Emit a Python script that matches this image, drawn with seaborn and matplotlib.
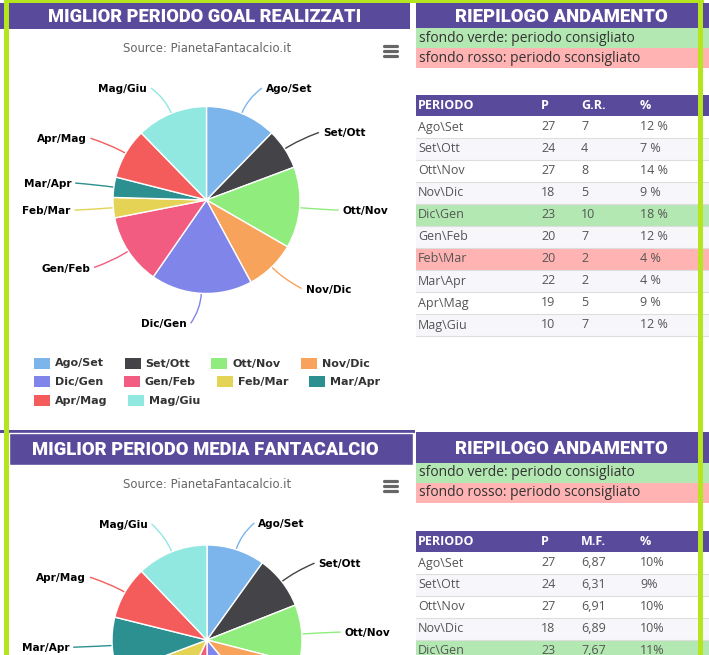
import matplotlib
matplotlib.use("Agg")
import matplotlib.pyplot as plt
import seaborn as sns
import numpy as np
import pandas as pd
from matplotlib.patches import Rectangle, PathPatch
from matplotlib.path import Path

# ---------------- data ----------------
periods = ["Ago/Set", "Set/Ott", "Ott/Nov", "Nov/Dic", "Dic/Gen",
           "Gen/Feb", "Feb/Mar", "Mar/Apr", "Apr/Mag", "Mag/Giu"]
goals = [7, 4, 8, 5, 10, 7, 2, 2, 5, 7]
presenze1 = [27, 24, 27, 18, 23, 20, 20, 22, 19, 10]
goal_pct = ["12 %", "7 %", "14 %", "9 %", "18 %", "12 %", "4 %", "4 %", "9 %", "12 %"]
status1 = ["", "", "", "", "good", "", "bad", "", "", ""]

mf_pie = [6.87, 6.31, 6.91, 6.89, 7.67, 4.9, 8.5, 6.65, 6.25, 8.4]
presenze2 = [27, 24, 27, 18, 23]
mf_table = ["6,87", "6,31", "6,91", "6,89", "7,67"]
mf_pct = ["10%", "9%", "10%", "10%", "11%"]
status2 = ["", "", "", "", "good"]

title1 = "MIGLIOR PERIODO GOAL REALIZZATI"
title2 = "MIGLIOR PERIODO MEDIA FANTACALCIO"
side_title = "RIEPILOGO ANDAMENTO"
note_good = "sfondo verde: periodo consigliato"
note_bad = "sfondo rosso: periodo sconsigliato"
subtitle = "Source: PianetaFantacalcio.it"
header1 = ["PERIODO", "P", "G.R.", "%"]
header2 = ["PERIODO", "P", "M.F.", "%"]

hc_colors = ["#7cb5ec", "#434348", "#90ed7d", "#f7a35c", "#8085e9",
             "#f15c80", "#e4d354", "#2b908f", "#f45b5b", "#91e8e1"]

# ---------------- style ----------------
sns.set_theme(style="white")
pal = sns.color_palette(hc_colors)
plt.rcParams["font.family"] = ["DejaVu Sans"]

PURPLE = "#5a4a9b"
LIME = "#b5e51d"
GREEN_BG = "#b3e8b3"
RED_BG = "#ffb3b3"
ALT_BG = "#f7f6fa"
TITLE_FONT = ["Roboto", "DejaVu Sans"]
TABLE_FONT = ["Open Sans", "DejaVu Sans"]

W, H = 709, 655
fig = plt.figure(figsize=(W / 100, H / 100), dpi=100)
fig.patch.set_facecolor("white")
bg = fig.add_axes([0, 0, 1, 1])
bg.set_xlim(0, W)
bg.set_ylim(H, 0)
bg.axis("off")
renderer = fig.canvas.get_renderer()


def fit_text(x, y, s, target_w, size0=12, **kw):
    t = bg.text(x, y, s, fontsize=size0, **kw)
    w = t.get_window_extent(renderer).width
    t.set_fontsize(size0 * target_w / w)
    return t


def rect(x0, y0, x1, y1, color, **kw):
    bg.add_patch(Rectangle((x0, y0), x1 - x0, y1 - y0, facecolor=color,
                           edgecolor=kw.pop("edgecolor", "none"), **kw))


def hamburger(x, y):
    for dy in (-5, 0, 5):
        bg.plot([x - 6.5, x + 6.5], [y + dy, y + dy], color="#666666",
                lw=2.3, solid_capstyle="round")


def draw_pie(values, cx, cy, r, label_top):
    ax = fig.add_axes([(cx - r) / W, 1 - (cy + r) / H, 2 * r / W, 2 * r / H])
    wedges, _ = ax.pie(values, colors=pal, startangle=90, counterclock=False,
                       radius=1, wedgeprops=dict(edgecolor="white", linewidth=1))
    for w_ in wedges:
        w_.set_clip_on(False)
    ax.set_xlim(-1, 1)
    ax.set_ylim(-1, 1)
    ax.axis("off")
    total = float(np.sum(values))
    cum = 0.0
    for v, name, col in zip(values, periods, pal):
        th = np.deg2rad((cum + v / 2) / total * 360)
        cum += v
        s, c = np.sin(th), np.cos(th)
        ex, ey = cx + r * s, cy - r * c
        R = r + 30
        lx, ly = cx + R * s, cy - R * c
        ly = max(ly, label_top)
        if ly - 6 > H:
            continue  # label lies outside the visible page
        side = 1 if s >= 0 else -1
        ctrl = (cx + (r + 16) * s, cy - (r + 16) * c)
        end = (lx + side * 9, ly)
        path = Path([(ex, ey), ctrl, end], [Path.MOVETO, Path.CURVE3, Path.CURVE3])
        bg.add_patch(PathPatch(path, facecolor="none", edgecolor=col, lw=1, zorder=3))
        bg.text(lx + side * 13, ly + 1, name, ha="left" if side > 0 else "right",
                va="center", fontsize=7.6, fontweight="bold", color="black", zorder=4)
    return ax


def draw_legend(cx, y0, names, colors, max_w=360, row_h=18.5):
    items = []
    for n in names:
        t = bg.text(0, 0, n, fontsize=8, fontweight="bold", color="#333333")
        tw = t.get_window_extent(renderer).width
        t.remove()
        items.append((n, tw))
    rows, row, xw = [], [], 0
    for n, tw in items:
        iw = 16 + 5 + tw
        if row and xw + iw > max_w:
            rows.append(row)
            row, xw = [], 0
        row.append((n, tw, xw))
        xw += iw + 21
    rows.append(row)
    box_w = max(r_[-1][2] + 21 + r_[-1][1] for r_ in rows)
    left = cx - box_w / 2
    k = 0
    for ri, r_ in enumerate(rows):
        y = y0 + ri * row_h
        for n, tw, xo in r_:
            rect(left + xo, y - 5.5, left + xo + 16, y + 5.5, colors[k])
            bg.text(left + xo + 21, y + 0.5, n, fontsize=8, fontweight="bold",
                    color="#333333", va="center", ha="left")
            k += 1


def draw_side(top, title_h, header, rows, status, header_y):
    x0, x1 = 416, W
    rect(x0, top, x1, top + title_h, PURPLE)
    fit_text(561.5, top + title_h / 2 + 1, side_title, 213, color="white",
             ha="center", va="center", fontweight="black", family=TITLE_FONT)
    g0 = top + title_h
    rect(x0, g0, x1, g0 + 20, GREEN_BG)
    rect(x0, g0 + 20, x1, g0 + 40, RED_BG)
    bg.text(419, g0 + 10, note_good, fontsize=10, color="#333333",
            va="center", family=TABLE_FONT)
    bg.text(419, g0 + 30, note_bad, fontsize=10, color="#333333",
            va="center", family=TABLE_FONT)
    col_x = [418, 541, 581, 640]
    rect(x0, header_y, x1, header_y + 21, PURPLE)
    for hx, h in zip(col_x, header):
        bg.text(hx, header_y + 10.5, h, fontsize=9, fontweight="bold",
                color="white", va="center", family=TABLE_FONT)
    y = header_y + 21
    for i, (cells, st) in enumerate(zip(rows, status)):
        colr = GREEN_BG if st == "good" else RED_BG if st == "bad" else (
            ALT_BG if i % 2 else "white")
        rect(x0, y, x1, y + 22, colr)
        bg.plot([x0, x1], [y + 22, y + 22], color="#dedede", lw=0.8)
        for cx_, val in zip(col_x, cells):
            bg.text(cx_, y + 11, val, fontsize=9, color="#555555",
                    va="center", family=TABLE_FONT)
        y += 22


# ---------------- panel 1 ----------------
rect(0, 3, 410, 29, PURPLE)
fit_text(204.5, 16.5, title1, 313, color="white", ha="center", va="center",
         fontweight="black", family=TITLE_FONT)
fit_text(207, 49, subtitle, 166, color="#666666", ha="center", va="center")
hamburger(390, 51)
draw_pie(goals, 206.5, 200, 93.5, 88)
draw_legend(207, 363, periods, pal)

rows1 = [[p.replace("/", "\\"), str(a), str(g), pc]
         for p, a, g, pc in zip(periods, presenze1, goals, goal_pct)]
draw_side(3, 25, header1, rows1, status1, 95)

# ---------------- panel 2 ----------------
rect(0, 430, 415, 432.5, PURPLE)
rect(9, 433, 413, 465, PURPLE, edgecolor="white", lw=1)
fit_text(205, 450, title2, 346, color="white", ha="center", va="center",
         fontweight="black", family=TITLE_FONT)
fit_text(207, 484, subtitle, 166, color="#666666", ha="center", va="center")
hamburger(390, 486)
draw_pie(mf_pie, 207, 640, 95, 523)

rows2 = [[p.replace("/", "\\"), str(a), m, pc]
         for p, a, m, pc in zip(periods, presenze2, mf_table, mf_pct)]
draw_side(432, 31, header2, rows2, status2, 531)

# ---------------- lime frame ----------------
rect(4, 0, 704, 3, LIME, zorder=10)
rect(4, 0, 9, H, LIME, zorder=10)
rect(698, 0, 703, H, LIME, zorder=10)

fig.savefig("out.png", dpi=100, facecolor="white")
